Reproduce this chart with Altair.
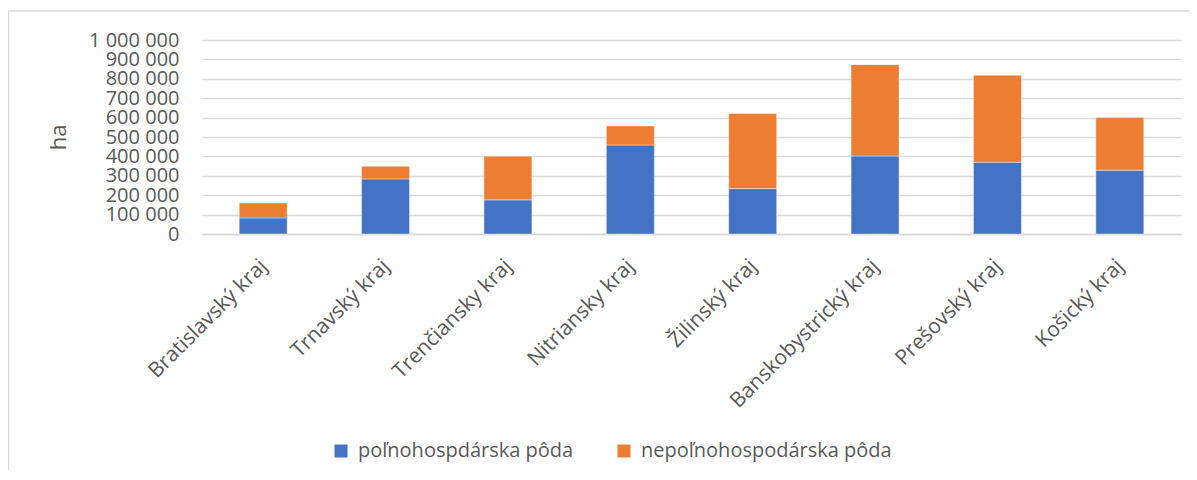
import altair as alt
import pandas as pd

# ---- data ----
regions = ["Bratislavský kraj", "Trnavský kraj", "Trenčiansky kraj", "Nitriansky kraj",
           "Žilinský kraj", "Banskobystrický kraj", "Prešovský kraj", "Košický kraj"]
pol_poda = [83000, 284000, 176000, 459000, 234000, 402000, 370000, 329000]
nepol_poda = [77000, 65000, 225000, 98000, 387000, 471000, 448000, 271000]
series = ["poľnohospdárska pôda", "nepoľnohospodárska pôda"]
colors = ["#4472C4", "#ED7D31"]
y_ticks = [0, 100000, 200000, 300000, 400000, 500000, 600000, 700000, 800000, 900000, 1000000]
y_title = "ha"

rows = []
for i, r in enumerate(regions):
    rows.append({"kraj": r, "typ": series[0], "ha": pol_poda[i], "ord": 0})
    rows.append({"kraj": r, "typ": series[1], "ha": nepol_poda[i], "ord": 1})
df = pd.DataFrame(rows)

W, H = 979, 194
FONT = "Open Sans"
GRAY = "#595959"
GRID = "#d9d9d9"

frame = alt.Chart(alt.Data(values=[{"a": 1}])).mark_rect(
    fill="white", fillOpacity=0, stroke=GRID, strokeWidth=1.5
).encode(
    x=alt.value(-193.5), x2=alt.value(1200), y=alt.value(-29), y2=alt.value(700)
)

bars = alt.Chart(df).mark_bar(stroke="white", strokeWidth=0.6, strokeOpacity=0.7).encode(
    x=alt.X("kraj:N", sort=regions, title=None,
            scale=alt.Scale(paddingInner=0.608, paddingOuter=0.304),
            axis=alt.Axis(labelAngle=-45, labelFontSize=21, labelFont=FONT, labelColor=GRAY,
                          labelPadding=21, labelOffset=-7, ticks=False, domainColor=GRID,
                          domainWidth=1.5, labelLimit=400, grid=False)),
    y=alt.Y("ha:Q", stack="zero", title=y_title,
            scale=alt.Scale(domain=[0, 1000000], nice=False),
            axis=alt.Axis(values=y_ticks,
                          labelExpr="replace(format(datum.value, ','), regexp(',', 'g'), ' ')",
                          labelFontSize=20, labelFont=FONT, labelColor=GRAY,
                          labelPadding=23, ticks=False, domain=False, labelOverlap=False,
                          labelFlush=False, grid=True, gridColor=GRID, gridWidth=1.5,
                          titleFontSize=22, titleFont=FONT, titleColor=GRAY,
                          titleFontWeight="normal", titlePadding=18)),
    color=alt.Color("typ:N", scale=alt.Scale(domain=series, range=colors),
                    legend=alt.Legend(title=None, orient="none", legendX=129, legendY=401,
                                      direction="horizontal", symbolType="square",
                                      symbolSize=169, symbolStrokeWidth=0,
                                      labelFontSize=20, labelFont=FONT, labelColor=GRAY,
                                      labelOffset=7, columnPadding=40, labelLimit=400)),
    order=alt.Order("ord:Q", sort="ascending"),
)

chart = alt.layer(frame, bars).properties(
    width=W, height=H,
    autosize=alt.AutoSizeParams(type="none"),
    padding={"left": 194, "top": 32, "right": 8, "bottom": 236},
).configure_view(stroke=None)

chart.save("out.html", embed_options={"renderer": "svg", "actions": False})
